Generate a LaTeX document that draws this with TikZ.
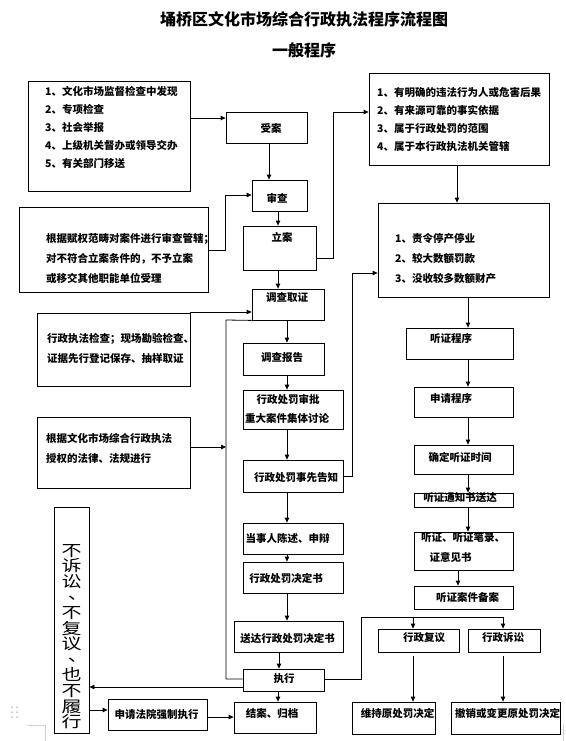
\documentclass[tikz,border=0pt]{standalone}
\usepackage{fontspec}
\setmainfont{Noto Sans CJK SC}
\usepackage{graphicx}
\usetikzlibrary{arrows.meta,fit}
\newcommand\vch[1]{\scalebox{1}[0.78]{#1}}
\newcommand\vcm{\scalebox{1}[0.78]{\makebox[1em][l]{\hspace*{0.32em}\smash{\raisebox{0.22em}{、}}}\vphantom{不}}}
\newcommand\vertfont{\fontsize{20}{15.6}\selectfont\lineskiplimit=-20pt\relax}
\begin{document}
\begin{tikzpicture}[x=1pt,y=-1pt,
  box/.style={draw, line width=0.8pt, inner sep=0pt},
  txt/.style={inner sep=0pt, font=\bfseries\fontsize{10.5}{12}\selectfont},
  ml/.style={inner sep=0pt, anchor=west, align=left, font=\bfseries\fontsize{10.5}{#1}\selectfont},
  conn/.style={line width=0.8pt},
  arr/.style={conn, -{Triangle[length=5pt,width=4.5pt]}},
  ttl/.style={inner sep=0pt, font=\bfseries\fontsize{16}{18}\selectfont},
  art/.style={gray!35, line width=0.7pt}]

\path[use as bounding box, fill=white] (0,0) rectangle (565,741);

% titles
\node[ttl] (title) at (304,19) {埇桥区文化市场综合行政执法程序流程图};
\node[ttl] (subtitle) at (304,50) {一般程序};

% boxes
\node[box, fit={(28,81)(190,191)}] (A) {};
\node[box, fit={(226,112)(307,143)}] (sa) {};
\node[box, fit={(19,207)(208,292)}] (B) {};
\node[box, fit={(252,180)(307,211)}] (sc) {};
\node[box, fit={(243,226)(316,270)}] (la) {};
\node[box, fit={(369,73)(549,165)}] (F) {};
\node[box, fit={(378,203)(549,297)}] (G) {};
\node[box, fit={(252,289)(324,320)}] (dq) {};
\node[box, fit={(37,313)(190,386)}] (C) {};
\node[box, fit={(243,343)(324,375)}] (bg) {};
\node[box, fit={(243,390)(343,429)}] (sp) {};
\node[box, fit={(37,417)(190,488)}] (D) {};
\node[box, fit={(243,460)(343,492)}] (gz) {};
\node[box, fit={(243,523)(343,554)}] (cs) {};
\node[box, fit={(243,562)(343,593)}] (jd) {};
\node[box, fit={(234,621)(343,652)}] (sd) {};
\node[box, fit={(243,669)(324,691)}] (zx) {};
\node[box, fit={(234,702)(316,733)}] (ja) {};
\node[box, fit={(108,699)(207,730)}] (sq) {};
\node[box, fit={(54,507)(89,733)}] (E) {};
\node[box, fit={(406,328)(513,359)}] (tz) {};
\node[box, fit={(414,387)(513,417)}] (sqcx) {};
\node[box, fit={(414,445)(513,474)}] (qd) {};
\node[box, fit={(414,493)(513,507)}] (tzs) {};
\node[box, fit={(414,532)(513,570)}] (tzbl) {};
\node[box, fit={(414,586)(513,609)}] (ba) {};
\node[box, fit={(378,629)(459,652)}] (fy) {};
\node[box, fit={(468,629)(540,652)}] (ss) {};
\node[box, fit={(352,702)(435,734)}] (wc) {};
\node[box, fit={(451,702)(560,734)}] (cx) {};

% texts
\node[ml=18] (At) at (45,127) {1、文化市场监督检查中发现\\2、专项检查\\3、社会举报\\4、上级机关督办或领导交办\\5、有关部门移送};
\node[ml=20] (Bt) at (46,258) {根据赋权范畴对案件进行审查管辖；\\对不符合立案条件的，不予立案\\或移交其他职能单位受理};
\node[ml=20] (Ct) at (47,348) {行政执法检查；现场勘验检查、\\证据先行登记保存、抽样取证};
\node[ml=20] (Dt) at (46,448) {根据文化市场综合行政执法\\授权的法律、法规进行};
\node[ml=18.3] (Ft) at (377,119.5) {1、有明确的违法行为人或危害后果\\2、有来源可靠的事实依据\\3、属于行政处罚的范围\\4、属于本行政执法机关管辖};
\node[ml=20] (Gt) at (395,258.5) {1、责令停产停业\\2、较大数额罚款\\3、没收较多数额财产};

\node[txt] (sat) at (271,128) {受案};
\node[txt] (sct) at (277,198) {审查};
\node[txt] (lat) at (282,237) {立案};
\node[txt] (dqt) at (287,298) {调查取证};
\node[txt] (bgt) at (282,358) {调查报告};
\node[txt] (spt1) at (288,399) {行政处罚审批};
\node[txt] (spt2) at (287,418) {重大案件集体讨论};
\node[txt] (gzt) at (296,478) {行政处罚事先告知};
\node[txt] (cst) at (287.5,538) {当事人陈述、申辩};
\node[txt] (jdt) at (286,578) {行政处罚决定书};
\node[txt] (sdt) at (287.5,638) {送达行政处罚决定书};
\node[txt] (zxt) at (284,679) {执行};
\node[txt] (jat) at (272,714) {结案、归档};
\node[txt] (sqt) at (156.5,714) {申请法院强制执行};
\node[txt] (tzt) at (451,339) {听证程序};
\node[txt] (sqcxt) at (451,398) {申请程序};
\node[txt] (qdt) at (460,457) {确定听证时间};
\node[txt] (tzst) at (460,498) {听证通知书送达};
\node[txt] (tzblt1) at (463,538) {听证、听证笔录、};
\node[txt] (tzblt2) at (450.5,557) {证意见书};
\node[txt] (bat) at (467.5,598) {听证案件备案};
\node[txt] (fyt) at (424,638) {行政复议};
\node[txt] (sst) at (503,638) {行政诉讼};
\node[txt] (wct) at (397.5,713) {维持原处罚决定};
\node[txt] (cxt) at (507.5,713) {撤销或变更原处罚决定};

\node[inner sep=0pt, align=center, font=\vertfont] (Et) at (71.5,636.5)
  {\vch{不}\\\vch{诉}\\\vch{讼}\\\vcm\\\vch{不}\\\vch{复}\\\vch{议}\\\vcm\\\vch{也}\\\vch{不}\\\vch{履}\\\vch{行}};

% coordinates
\coordinate (bigL) at (226,447);
\coordinate (fork) at (413,617);

% connectors
\draw[arr] (A.east |- 0,118) -- (sa.west |- 0,118);
\draw[arr] (sa.south -| 269,0) -- (sc.north -| 269,0);
\draw[arr] (B.east |- 0,250) -| (225,195) -- (sc.west |- 0,195);
\draw[arr] (sc.south -| 278,0) -- (la.north -| 278,0);
\draw[arr] (la.east |- 0,258) -| (333,112) -- (F.west |- 0,112);
\draw[arr] (F.south -| 457,0) -- (G.north -| 457,0);
\draw[arr] (la.south -| 278,0) -- (dq.north -| 278,0);
\draw[arr] (C.east |- 0,312) -- (dq.west |- 0,312);
\draw[conn] (dq.south west) -- (226,320) |- (zx.west |- 0,679);
\draw[arr] (D.east |- bigL) -- (bigL);
\draw[arr] (dq.south -| 287,0) -- (bg.north -| 287,0);
\draw[arr] (bg.south -| 287,0) -- (sp.north -| 287,0);
\draw[arr] (sp.south -| 287,0) -- (gz.north -| 287,0);
\draw[arr] (gz.east |- 0,476) -| (352,273) -- (G.west |- 0,273);
\draw[arr] (gz.south -| 287,0) -- (cs.north -| 287,0);
\draw[arr] (cs.south -| 287,0) -- (jd.north -| 287,0);
\draw[arr] (jd.south -| 287,0) -- (sd.north -| 287,0);
\draw[arr] (sd.south -| 279,0) -- (zx.north -| 279,0);
\draw[arr] (zx.west |- 0,687) -- (E.east |- 0,687);
\draw[arr] (zx.south -| 278,0) -- (ja.north -| 278,0);
\draw[arr] (E.east |- 0,710) -- (sq.west |- 0,710);
\draw[arr] (sq.east |- 0,717) -- (ja.west |- 0,717);
\draw[arr] (zx.east |- 0,679) -| (361,617) -| (ss.north -| 503,0);
\draw[arr] (fork) -- (fy.north -| fork);
\draw[arr] (G.south -| 468,0) -- (tz.north -| 468,0);
\draw[arr] (tz.south -| 468,0) -- (sqcx.north -| 468,0);
\draw[arr] (sqcx.south -| 468,0) -- (qd.north -| 468,0);
\draw[arr] (qd.south -| 468,0) -- (tzs.north -| 468,0);
\draw[arr] (tzs.south -| 468,0) -- (tzbl.north -| 468,0);
\draw[arr] (tzbl.south -| 458,0) -- (ba.north -| 458,0);
\draw[arr, shorten <=4pt] (fy.south -| 413,0) -- (wc.north -| 413,0);
\draw[arr, shorten <=4pt] (ss.south -| 503,0) -- (cx.north -| 503,0);

% page artifacts
\draw[art] (27,725) -- (45,725) -- (45,741);
\draw[art] (563,724) -- (563,741);
\foreach \px in {12,17} \foreach \py in {707,712,717} \fill[gray!50] (\px,\py) circle (1);
\end{tikzpicture}
\end{document}
